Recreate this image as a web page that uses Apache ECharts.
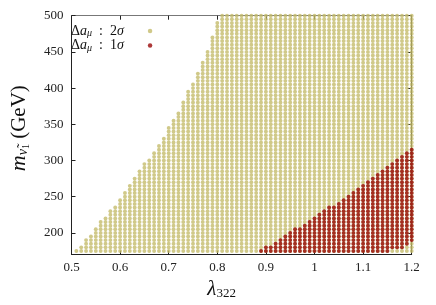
<!DOCTYPE html>
<html>
<head>
<meta charset="utf-8">
<script src="https://cdn.jsdelivr.net/npm/echarts@6/dist/echarts.min.js"></script>
<style>
html,body{margin:0;padding:0;background:#fff;}
#chart{width:436px;height:305px;}
</style>
</head>
<body>
<div id="chart"></div>
<script>
// lambda_322 scan columns
const lambdaCols = [0.51,0.52,0.53,0.54,0.55,0.56,0.57,0.58,0.59,0.60,
  0.61,0.62,0.63,0.64,0.65,0.66,0.67,0.68,0.69,0.70,
  0.71,0.72,0.73,0.74,0.75,0.76,0.77,0.78,0.79,0.80,
  0.81,0.82,0.83,0.84,0.85,0.86,0.87,0.88,0.89,0.90,
  0.91,0.92,0.93,0.94,0.95,0.96,0.97,0.98,0.99,1.00,
  1.01,1.02,1.03,1.04,1.05,1.06,1.07,1.08,1.09,1.10,
  1.11,1.12,1.13,1.14,1.15,1.16,1.17,1.18,1.19,1.20];
// sneutrino mass scan rows (GeV)
const massRows = [175,180,185,190,195,200,205,210,215,220,225,230,235,240,245,250,
  255,260,265,270,275,280,285,290,295,300,305,310,315,320,325,330,335,340,345,350,
  355,360,365,370,375,380,385,390,395,400,405,410,415,420,425,430,435,440,445,450,
  455,460,465,470,475,480,485,490,495,500];
// 2 sigma region: upper mass edge for each lambda column
const twoSigmaTop = [175,180,190,195,205,215,220,230,235,245,
  255,265,275,285,295,300,310,320,330,345,
  355,365,380,395,405,420,435,450,470,490,
  500,500,500,500,500,500,500,500,500,500,
  500,500,500,500,500,500,500,500,500,500,
  500,500,500,500,500,500,500,500,500,500,
  500,500,500,500,500,500,500,500,500,500];
// 1 sigma region
const oneSigmaCols = [0.89,0.90,0.91,0.92,0.93,0.94,0.95,0.96,0.97,0.98,0.99,1.00,
  1.01,1.02,1.03,1.04,1.05,1.06,1.07,1.08,1.09,1.10,
  1.11,1.12,1.13,1.14,1.15,1.16,1.17,1.18,1.19,1.20];
const oneSigmaTop = [175,180,180,185,190,195,200,205,205,210,215,220,
  225,230,235,235,240,245,250,255,260,265,
  270,275,280,285,290,295,300,305,310,315];
const oneSigmaBottom = [175,175,175,175,175,175,175,175,175,175,175,175,
  175,175,175,175,175,175,175,175,175,175,
  175,175,175,175,175,180,180,180,185,190];
const xTicks = [0.5,0.6,0.7,0.8,0.9,1,1.1,1.2];
const yTicks = [200,250,300,350,400,450,500];

function buildPoints(cols, bottoms, tops) {
  const pts = [];
  cols.forEach((x, i) => {
    massRows.forEach(m => {
      if (m >= bottoms[i] && m <= tops[i]) pts.push([x, m]);
    });
  });
  return pts;
}
const twoSigmaPts = buildPoints(lambdaCols, lambdaCols.map(() => 175), twoSigmaTop);
const oneSigmaPts = buildPoints(oneSigmaCols, oneSigmaBottom, oneSigmaTop);

const serif = 'Liberation Serif';
const chart = echarts.init(document.getElementById('chart'), null, {renderer: 'canvas'});
const axisLineDark = {lineStyle: {color: '#222', width: 1}};
chart.setOption({
  animation: false,
  grid: {left: 65.7, right: 24.3, top: 15.7, bottom: 42.7, containLabel: false},
  legend: {
    orient: 'vertical', left: 66, top: 19, align: 'right',
    icon: 'circle', itemWidth: 4.5, itemHeight: 4.5, itemGap: 0,
    data: ['2s', '1s'],
    formatter: n => n === '2s'
      ? '{d|Δ}{a|a}{mu|μ}{d|  :  2}{s|σ}{w|}'
      : '{d|Δ}{a|a}{mu|μ}{d|  :  1}{s|σ}{w|}',
    textStyle: {
      lineHeight: 12.5, fontFamily: serif, fontSize: 14, color: '#111',
      rich: {
        d: {fontFamily: serif, fontSize: 14, color: '#111'},
        a: {fontFamily: serif, fontSize: 14, fontStyle: 'italic', color: '#111'},
        mu: {fontFamily: serif, fontSize: 10, fontStyle: 'italic', color: '#111', padding: [5, 0, 0, 0]},
        s: {fontFamily: serif, fontSize: 14, fontStyle: 'italic', color: '#111'},
        w: {width: 19}
      }
    }
  },
  xAxis: [{
    type: 'value', min: 0.5, max: 1.2, position: 'bottom',
    axisLine: axisLineDark,
    axisTick: {inside: true, length: 4, customValues: xTicks, lineStyle: {color: '#222'}},
    axisLabel: {customValues: xTicks, fontFamily: serif, fontSize: 13, color: '#222', margin: 6},
    splitLine: {show: false},
    name: '{l|λ}{s|322}', nameLocation: 'middle', nameGap: 13,
    nameTextStyle: {
      padding: [0, 40, 0, 0],
      rich: {
        l: {fontFamily: serif, fontSize: 21, fontStyle: 'italic', color: '#111'},
        s: {fontFamily: serif, fontSize: 13, color: '#111', padding: [9, 0, 0, 0]}
      }
    }
  }, {
    type: 'value', min: 0.5, max: 1.2, position: 'top',
    axisLine: {lineStyle: {color: '#777', width: 1.2}},
    axisTick: {inside: true, length: 4, customValues: xTicks, lineStyle: {color: '#222'}},
    axisLabel: {show: false}, splitLine: {show: false}
  }],
  yAxis: [{
    type: 'value', min: 170, max: 500, position: 'left',
    axisLine: {show: true, lineStyle: {color: '#222', width: 1}},
    axisTick: {show: true, inside: true, length: 4, customValues: yTicks, lineStyle: {color: '#222'}},
    axisLabel: {customValues: yTicks, fontFamily: serif, fontSize: 13, color: '#222', margin: 8},
    splitLine: {show: false},
    name: '{m|m}{n|ν̃}{o|1}{g| (GeV)}', nameLocation: 'middle', nameGap: 40, nameRotate: 90,
    nameTextStyle: {
      padding: [0, 0, 0, 14],
      rich: {
        m: {fontFamily: serif, fontSize: 22, fontStyle: 'italic', color: '#111'},
        n: {fontFamily: serif, fontSize: 14, fontStyle: 'italic', color: '#111', padding: [8, 0, 0, 0]},
        o: {fontFamily: serif, fontSize: 10, color: '#111', padding: [15, 0, 0, 0]},
        g: {fontFamily: serif, fontSize: 21, color: '#111'}
      }
    }
  }, {
    type: 'value', min: 170, max: 500, position: 'right',
    axisLine: {show: true, lineStyle: {color: '#222', width: 1}},
    axisTick: {show: true, inside: true, length: 4, customValues: yTicks, lineStyle: {color: '#222'}},
    axisLabel: {show: false}, splitLine: {show: false}
  }],
  series: [{
    name: '2s', type: 'scatter', xAxisIndex: 0, yAxisIndex: 0,
    symbol: 'circle', symbolSize: 3.9, data: twoSigmaPts,
    itemStyle: {color: '#c4bb6c'}, clip: true, z: 2
  }, {
    name: '1s', type: 'scatter', xAxisIndex: 0, yAxisIndex: 0,
    symbol: 'circle', symbolSize: 3.9, data: oneSigmaPts,
    itemStyle: {color: '#990808'}, clip: true, z: 3
  }]
});
</script>
</body>
</html>
